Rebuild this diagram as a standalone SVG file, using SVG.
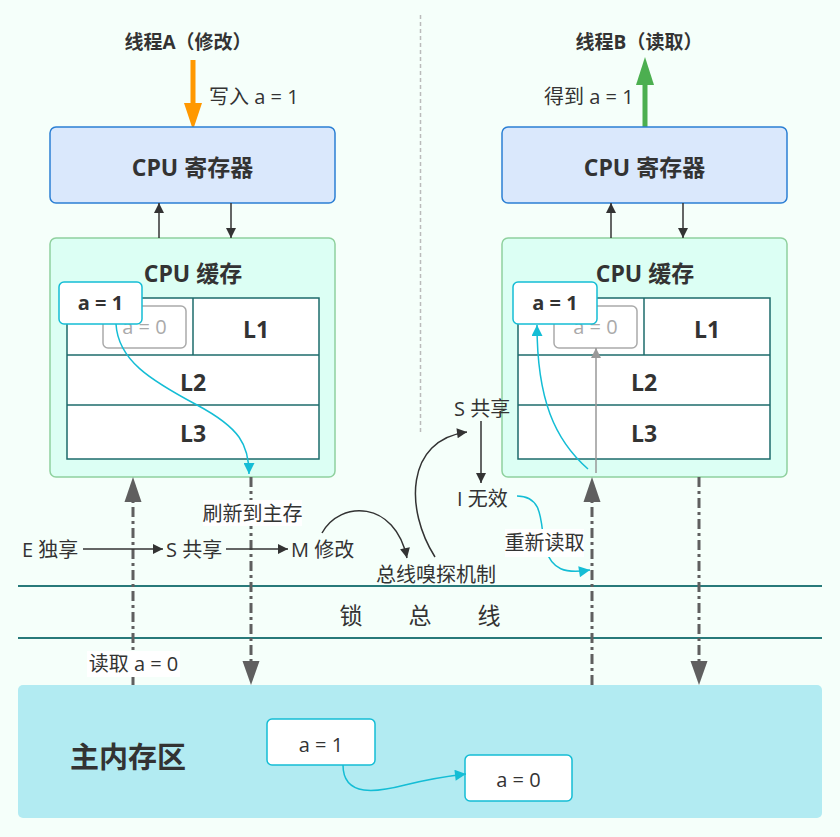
<svg xmlns="http://www.w3.org/2000/svg" width="840" height="837" viewBox="0 0 840 837">
<style>
text{font-family:"Open Sans","Noto Sans CJK SC",sans-serif;fill:#333}
.b{font-weight:bold}
.t{font-size:20px}
.ttl{font-size:19px;font-weight:bold}
.big{font-size:23px;font-weight:bold}
.lv{font-size:23px;font-weight:bold}
.reg{fill:#dae8fc;stroke:#2b7fd4;stroke-width:1.5}
.cache{fill:#dcfff4;stroke:#8fd19e;stroke-width:1.5}
.tbl{fill:#fff;stroke:#1d6b6b;stroke-width:1.5}
.gbox{fill:#fff;stroke:#aaa;stroke-width:1.5}
.cbox{fill:#fff;stroke:#14bdd5;stroke-width:1.5}
.thin{fill:none;stroke:#333;stroke-width:1.5}
.cy{fill:none;stroke:#14bdd5;stroke-width:1.5}
.dd{fill:none;stroke:#5f5f5f;stroke-width:3;stroke-dasharray:10 4 3 4}
.bus{stroke:#287a7a;stroke-width:2}
.lbl{fill:#fff}
</style>
<defs>
<marker id="ab" viewBox="0 0 10 10" refX="10" refY="5" markerWidth="15" markerHeight="10" markerUnits="userSpaceOnUse" orient="auto"><path d="M0,0L10,5L0,10z" fill="#333"/></marker>
<marker id="ac" viewBox="0 0 10 10" refX="10" refY="5" markerWidth="16" markerHeight="11" markerUnits="userSpaceOnUse" orient="auto"><path d="M0,0L10,5L0,10z" fill="#14bdd5"/></marker>
<marker id="ag" viewBox="0 0 10 10" refX="10" refY="5" markerWidth="14" markerHeight="10" markerUnits="userSpaceOnUse" orient="auto"><path d="M0,0L10,5L0,10z" fill="#999"/></marker>
</defs>
<rect width="840" height="837" fill="#f5fffa"/>
<line x1="420.5" y1="15" x2="420.5" y2="432" stroke="#bbb" stroke-width="1.5" stroke-dasharray="4 3"/>

<g id="threadA">
<text class="ttl" x="188" y="49" text-anchor="middle">线程A（修改）</text>
<line x1="193" y1="60" x2="193" y2="104" stroke="#ff9800" stroke-width="5"/>
<path d="M184,103L202,103L193,130z" fill="#ff9800"/>
<text class="t" x="209" y="104">写入 a = 1</text>
</g>
<g id="threadB">
<text class="ttl" x="639" y="49" text-anchor="middle">线程B（读取）</text>
<line x1="645" y1="127" x2="645" y2="83" stroke="#4caf50" stroke-width="5"/>
<path d="M636,85L654,85L645,57z" fill="#4caf50"/>
<text class="t" x="544" y="104">得到 a = 1</text>
</g>

<g id="regA">
<rect class="reg" x="50" y="127" width="285" height="76" rx="6"/>
<text class="big" x="192.500" y="176" text-anchor="middle">CPU 寄存器</text>
</g>
<g id="regB">
<rect class="reg" x="502" y="127" width="285" height="76" rx="6"/>
<text class="big" x="644.500" y="176" text-anchor="middle">CPU 寄存器</text>
</g>

<g id="cacheA">
<rect class="cache" x="50" y="238" width="285" height="239" rx="6"/>
<text class="big" x="193" y="282" text-anchor="middle">CPU 缓存</text>
<rect class="tbl" x="67" y="298" width="252" height="161"/>
<line class="tbl" x1="67" y1="355" x2="319" y2="355"/>
<line class="tbl" x1="67" y1="405" x2="319" y2="405"/>
<line class="tbl" x1="193" y1="298" x2="193" y2="355"/>
<text class="lv" x="256" y="338" text-anchor="middle">L1</text>
<text class="lv" x="193" y="391" text-anchor="middle">L2</text>
<text class="lv" x="193" y="442" text-anchor="middle">L3</text>
<rect class="gbox" x="103" y="306" width="83" height="42" rx="5"/>
<text x="144.500" y="334" text-anchor="middle" font-size="20" style="fill:#aaa">a = 0</text>
<rect class="cbox" x="59" y="282" width="83" height="42" rx="5"/>
<text class="b" x="100.500" y="310" text-anchor="middle" font-size="20">a = 1</text>
</g>
<g id="cacheB">
<rect class="cache" x="502" y="238" width="285" height="239" rx="6"/>
<text class="big" x="645" y="282" text-anchor="middle">CPU 缓存</text>
<rect class="tbl" x="518" y="298" width="252" height="161"/>
<line class="tbl" x1="518" y1="355" x2="770" y2="355"/>
<line class="tbl" x1="518" y1="405" x2="770" y2="405"/>
<line class="tbl" x1="644" y1="298" x2="644" y2="355"/>
<text class="lv" x="707" y="338" text-anchor="middle">L1</text>
<text class="lv" x="644" y="391" text-anchor="middle">L2</text>
<text class="lv" x="644" y="442" text-anchor="middle">L3</text>
<rect class="gbox" x="554" y="306" width="83" height="42" rx="5"/>
<text x="595.500" y="334" text-anchor="middle" font-size="20" style="fill:#aaa">a = 0</text>
<rect class="cbox" x="513" y="282" width="84" height="42" rx="5"/>
<text class="b" x="555" y="310" text-anchor="middle" font-size="20">a = 1</text>
</g>

<g id="memory">
<rect x="18" y="685" width="804" height="133" rx="5" fill="#b2ebf2"/>
<text x="128" y="768" text-anchor="middle" font-size="29" class="b">主内存区</text>
<rect class="cbox" x="267" y="719" width="108" height="46" rx="5"/>
<text x="321" y="752" text-anchor="middle" font-size="20">a = 1</text>
<rect class="cbox" x="465" y="755" width="107" height="46" rx="5"/>
<text x="518.500" y="787" text-anchor="middle" font-size="20">a = 0</text>
</g>

<g id="states">
<text class="t" x="22" y="557">E 独享</text>
<text class="t" x="166" y="557">S 共享</text>
<text class="t" x="291" y="557">M 修改</text>
<text class="t" x="454" y="416">S 共享</text>
<text class="t" x="457" y="506">I 无效</text>
<text class="t" x="436" y="582" text-anchor="middle">总线嗅探机制</text>
</g>

<g id="bus">
<line class="bus" x1="18" y1="586" x2="822" y2="586" stroke-width="1.5"/>
<line class="bus" x1="18" y1="638" x2="822" y2="638"/>
<text x="351" y="624" text-anchor="middle" font-size="23">锁</text>
<text x="420" y="624" text-anchor="middle" font-size="23">总</text>
<text x="489" y="624" text-anchor="middle" font-size="23">线</text>
</g>

<g id="connectors">
<line class="thin" x1="159" y1="238" x2="159" y2="203" marker-end="url(#ab)"/>
<line class="thin" x1="231" y1="203" x2="231" y2="238" marker-end="url(#ab)"/>
<line class="thin" x1="611" y1="238" x2="611" y2="203" marker-end="url(#ab)"/>
<line class="thin" x1="683" y1="203" x2="683" y2="238" marker-end="url(#ab)"/>

<path class="cy" d="M116,324 C118,360 150,380 197,405 C240,428 249,445 249,474" marker-end="url(#ac)"/>
<path class="cy" d="M588,469 C555,440 537,400 537,325" marker-end="url(#ac)"/>
<line x1="596" y1="473" x2="596" y2="348" stroke="#999" stroke-width="1.5" marker-end="url(#ag)"/>

<line class="dd" x1="133" y1="685" x2="133" y2="500"/>
<path d="M124.500,502L141.500,502L133,477z" fill="#5f5f5f"/>
<line class="dd" x1="251" y1="477" x2="251" y2="662"/>
<path d="M242.500,661L259.500,661L251,685z" fill="#5f5f5f"/>
<line class="dd" x1="592" y1="685" x2="592" y2="500"/>
<path d="M583.500,502L600.500,502L592,477z" fill="#5f5f5f"/>
<line class="dd" x1="699" y1="477" x2="699" y2="662"/>
<path d="M690.500,661L707.500,661L699,685z" fill="#5f5f5f"/>

<line class="thin" x1="83" y1="549" x2="163" y2="549" marker-end="url(#ab)"/>
<line class="thin" x1="226" y1="549" x2="288" y2="549" marker-end="url(#ab)"/>
<path class="thin" d="M322,533 C340,500 395,500 407,558" marker-end="url(#ab)"/>
<path class="thin" d="M435,557 C405,510 405,440 467,432" marker-end="url(#ab)"/>
<line class="thin" x1="481" y1="421" x2="481" y2="483" marker-end="url(#ab)"/>
<path class="cy" d="M517,496 C545,496 540,525 545,548 C552,570 565,574 590,570" marker-end="url(#ac)"/>
<path class="cy" d="M343,765 C343,798 378,792 405,785 C425,780 440,777 466,774" marker-end="url(#ac)"/>

<rect class="lbl" x="203" y="500" width="99" height="26"/>
<text class="t" x="252.500" y="521" text-anchor="middle">刷新到主存</text>
<rect class="lbl" x="505" y="529" width="79" height="28"/>
<text class="t" x="544.500" y="550" text-anchor="middle">重新读取</text>
<rect class="lbl" x="87" y="651" width="93" height="26"/>
<text class="t" x="133.500" y="671" text-anchor="middle">读取 a = 0</text>
</g>
</svg>
